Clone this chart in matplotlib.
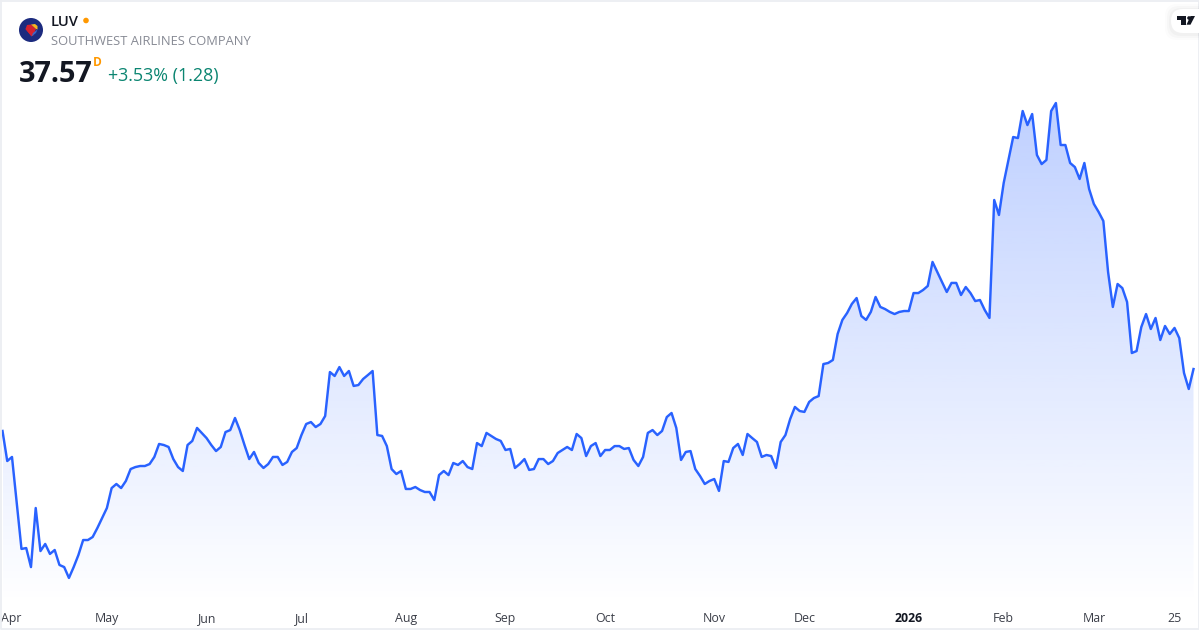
import numpy as np
import matplotlib
matplotlib.use("Agg")
import matplotlib.pyplot as plt
from matplotlib.patches import Circle, Polygon, FancyBboxPatch
from matplotlib.colors import LinearSegmentedColormap

plt.rcParams['font.family'] = ['Open Sans', 'DejaVu Sans']

# daily closes
closes = [
    33.47, 31.48, 31.75, 28.70, 25.66, 25.72, 24.46, 28.37, 25.52, 25.99, 25.33, 25.59,
    24.60, 24.46, 23.74, 24.46, 25.26, 26.25, 26.25, 26.45, 27.05, 27.71, 28.37, 29.69,
    29.96, 29.69, 30.16, 30.95, 31.08, 31.15, 31.15, 31.28, 31.75, 32.61, 32.54, 32.41,
    31.61, 31.08, 30.82, 32.54, 32.81, 33.67, 33.34, 33.00, 32.54, 32.14, 32.41, 33.40,
    33.53, 34.33, 33.53, 32.54, 31.61, 32.08, 31.35, 31.02, 31.28, 31.75, 31.75, 31.22,
    31.42, 32.08, 32.34, 33.20, 33.93, 34.06, 33.73, 33.93, 34.46, 37.37, 37.11, 37.70,
    37.11, 37.44, 36.45, 36.51, 36.91, 37.17, 37.44, 33.20, 33.14, 32.47, 30.95, 30.62,
    30.82, 29.63, 29.63, 29.76, 29.56, 29.43, 29.43, 28.90, 30.55, 30.82, 30.55, 31.35,
    31.22, 31.48, 31.08, 30.95, 32.67, 32.47, 33.34, 33.14, 32.94, 32.81, 32.21, 32.28,
    31.02, 31.28, 31.61, 30.89, 30.95, 31.61, 31.61, 31.28, 31.48, 32.01, 32.21, 32.41,
    32.21, 33.27, 33.00, 31.81, 32.47, 32.67, 31.81, 32.21, 32.21, 32.47, 32.47, 32.28,
    32.34, 31.55, 31.15, 31.75, 33.34, 33.53, 33.20, 33.47, 34.39, 34.66, 33.67, 31.55,
    32.08, 32.14, 30.95, 30.49, 29.96, 30.16, 30.29, 29.50, 31.48, 31.42, 32.34, 32.61,
    31.88, 33.27, 33.00, 32.74, 31.75, 31.88, 31.81, 31.02, 32.74, 33.20, 34.26, 35.06,
    34.79, 34.73, 35.39, 35.65, 35.78, 37.90, 37.97, 38.17, 39.89, 40.82, 41.28, 41.88,
    42.27, 41.08, 40.82, 41.35, 42.34, 41.68, 41.54, 41.35, 41.21, 41.35, 41.41, 41.41,
    42.60, 42.60, 42.80, 43.07, 44.66, 43.99, 43.33, 42.67, 43.27, 43.27, 42.47, 43.00,
    42.60, 42.07, 42.14, 41.48, 40.95, 48.76, 47.77, 49.89, 51.41, 52.93, 52.86, 54.65,
    53.72, 54.45, 51.74, 51.14, 51.41, 54.65, 55.18, 52.40, 52.40, 51.21, 50.94, 50.15,
    51.21, 49.49, 48.50, 47.97, 47.37, 43.99, 41.68, 43.20, 42.93, 42.01, 38.63, 38.76,
    40.35, 41.21, 40.22, 40.95, 39.49, 40.42, 39.89, 40.29, 39.62, 37.31, 36.25, 37.57,
]
tick_labels = ["Apr", "May", "Jun", "Jul", "Aug", "Sep", "Oct", "Nov", "Dec", "2026", "Feb", "Mar", "25"]
tick_bars = [1.8, 22, 43, 63, 85, 106, 127, 150, 169, 191, 211, 230, 247]

W, H = 1200, 630
fig = plt.figure(figsize=(W / 100, H / 100), dpi=100, facecolor="white")

# chart axes fill the whole card
ax = fig.add_axes([0, 0, 1, 1])
x = np.arange(len(closes))
step = (1193.5 - 2.5) / (len(closes) - 1)
price_top = 62.0
price_bottom = 62.0 - 0.0662 * H
ax.axis("off")

# area gradient, clipped to the shape under the line
grad_top = max(closes)
grad_bottom = 62.0 - 0.0662 * 605
cmap = LinearSegmentedColormap.from_list("area", [(41/255, 98/255, 1, 0.30), (41/255, 98/255, 1, 0.0)])
im = ax.imshow(np.linspace(0, 1, 256).reshape(-1, 1), cmap=cmap, aspect="auto",
               extent=[x[0], x[-1], grad_bottom, grad_top], origin="upper", zorder=1)
verts = [(x[0], grad_bottom)] + list(zip(x, closes)) + [(x[-1], grad_bottom)]
poly = Polygon(verts, closed=True, transform=ax.transData, fc="none", ec="none")
ax.add_patch(poly)
im.set_clip_path(poly)
ax.set_xlim(-2.5 / step, (W - 2.5) / step)
ax.set_ylim(price_bottom, price_top)

ax.plot(x, closes, color="#2962FF", lw=1.75, zorder=3, solid_joinstyle="round")

for b, lab in zip(tick_bars, tick_labels):
    ax.text(b, 1 - 618.5 / H, lab, transform=ax.get_xaxis_transform(), ha="center", va="center",
            fontsize=8.9, color="#131722" if lab == "2026" else "#3b3e48",
            fontweight="bold" if lab == "2026" else "normal", zorder=5)

# overlay in pixel coordinates for header, logo and card border
ov = fig.add_axes([0, 0, 1, 1], facecolor="none")
ov.set_xlim(0, W)
ov.set_ylim(H, 0)
ov.axis("off")

ov.add_patch(Circle((31, 30), 12, fc="#1c2b7f", ec="none"))
ov.add_patch(Polygon([(27, 25), (31, 24.5), (36, 29), (33, 36), (31, 35.5), (25.5, 29)], fc="#d5222f", ec="none"))
ov.add_patch(Polygon([(31, 24.5), (35, 24), (37.5, 26), (37.5, 29.5), (36, 29)], fc="#f7b520", ec="none"))
ov.add_patch(Polygon([(25.5, 29), (27, 28), (33, 34), (31.5, 36.5)], fc="#d5222f", ec="none"))
ov.add_patch(Polygon([(31.5, 36.5), (33, 33), (37.5, 29.5), (36, 33)], fc="#3d67c9", ec="none"))

ov.text(51, 22, "LUV", fontsize=10.6, fontweight="semibold", color="#131722", va="center", ha="left")
ov.add_patch(Circle((86, 20.5), 2.8, fc="#ff9800", ec="none"))
ov.text(51, 41.5, "SOUTHWEST AIRLINES COMPANY", fontsize=9.3, color="#878a94", va="center", ha="left")
ov.text(19, 74, "37.57", fontsize=20.8, fontweight="bold", color="#131722", va="center", ha="left")
ov.text(93, 62, "D", fontsize=8.6, fontweight="bold", color="#ff9800", va="center", ha="left")
ov.text(108, 76, "+3.53% (1.28)", fontsize=12.9, color="#0b8571", va="center", ha="left")

# card border
ov.plot([0.5, 0.5, W - 1.5, W - 1.5, 0.5], [0.5, H - 1, H - 1, 0.5, 0.5], color="#eceef2", lw=1.3, zorder=1)

# TradingView badge
for pad, a in zip([6, 4, 2], [0.012, 0.018, 0.025]):
    ov.add_patch(FancyBboxPatch((1171 - pad, 9 - pad + 1), 40 + pad, 24 + 2 * pad,
                                boxstyle="round,pad=0,rounding_size=12", fc="#000000", ec="none", alpha=a, zorder=2))
ov.add_patch(FancyBboxPatch((1171, 9), 40, 24, boxstyle="round,pad=0,rounding_size=12", fc="white", ec="none", zorder=3))
ov.add_patch(Polygon([(1177, 16), (1186, 16), (1186, 24.7), (1181, 24.7), (1181, 19.5), (1177, 19.5)], fc="#131722", ec="none", zorder=4))
ov.add_patch(Circle((1189, 18), 1.8, fc="#131722", ec="none", zorder=4))
ov.add_patch(Polygon([(1190.5, 16), (1195, 16), (1190.5, 24.7), (1186.5, 24.7)], fc="#131722", ec="none", zorder=4))
# the badge is cut by the card edge
ov.add_patch(Polygon([(W - 1, 0), (W, 0), (W, H), (W - 1, H)], fc="white", ec="none", zorder=5))

fig.savefig("out.png", dpi=100)
